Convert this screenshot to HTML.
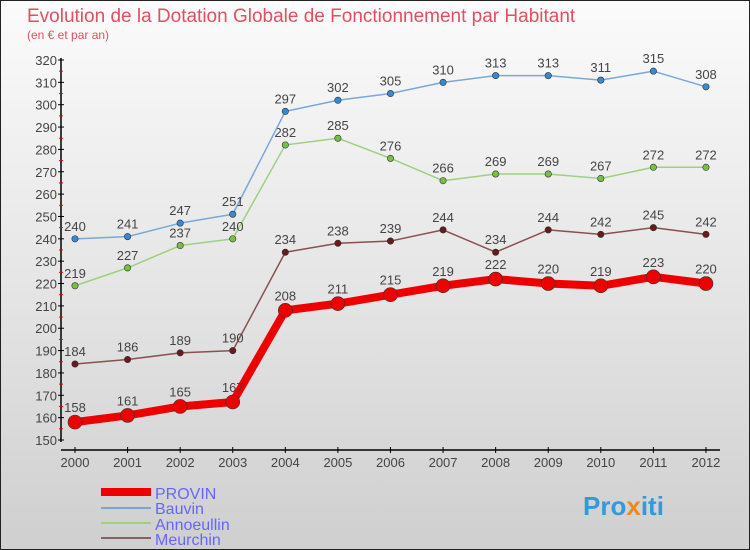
<!DOCTYPE html>
<html><head><meta charset="utf-8"><style>
body{margin:0;width:750px;height:550px;overflow:hidden}
#c{position:absolute;left:0;top:0;width:748px;height:548px;border:1px solid #222;background:linear-gradient(#fbfbfb,#e6e6e6 50%,#cfcfcf)}
svg{position:absolute;left:0;top:0}
text{font-family:"Liberation Sans",sans-serif}
</style></head><body>
<div id="c"></div>
<svg id="s" width="750" height="550">
<text x="27" y="22" font-size="19" fill="#e05060">Evolution de la Dotation Globale de Fonctionnement par Habitant</text>
<text x="27" y="39" font-size="12" fill="#e05060">(en € et par an)</text>
<g id="ax"></g><g id="ser"></g>
<g>
<line x1="101" y1="492" x2="151" y2="492" stroke="#e00" stroke-width="8"/>
<text x="155" y="499" font-size="16" fill="#6666ff">PROVIN</text>
<line x1="101" y1="508" x2="151" y2="508" stroke="#7aa8cc" stroke-width="2"/>
<text x="155" y="514" font-size="16" fill="#6666ff">Bauvin</text>
<line x1="101" y1="523" x2="151" y2="523" stroke="#9ed080" stroke-width="2"/>
<text x="155" y="530" font-size="16" fill="#6666ff">Annoeullin</text>
<line x1="101" y1="538" x2="151" y2="538" stroke="#8a6060" stroke-width="2"/>
<text x="155" y="545" font-size="16" fill="#6666ff">Meurchin</text>
</g>
<text x="583" y="515" font-size="26" font-weight="bold" fill="#3399dd">Pro<tspan fill="#ee8822">x</tspan>iti</text>
</svg>
<script>
const years=[2000,2001,2002,2003,2004,2005,2006,2007,2008,2009,2010,2011,2012];
const yTicks=[150,160,170,180,190,200,210,220,230,240,250,260,270,280,290,300,310,320];
const provin=[158,161,165,167,208,211,215,219,222,220,219,223,220];
const bauvin=[240,241,247,251,297,302,305,310,313,313,311,315,308];
const annoeullin=[219,227,237,240,282,285,276,266,269,269,267,272,272];
const meurchin=[184,186,189,190,234,238,239,244,234,244,242,245,242];
const NS='http://www.w3.org/2000/svg';
const X=i=>75+i*52.58, Y=v=>440-(v-150)*380/170;
function mk(t,a,p){const e=document.createElementNS(NS,t);for(const k in a)e.setAttribute(k,a[k]);p.appendChild(e);return e;}
const ax=document.getElementById('ax');
const ya=mk('line',{x1:61,y1:58,x2:61,y2:442,stroke:'#000','stroke-width':1.5},ax);


const xa=mk('line',{x1:61,y1:450,x2:720,y2:450,stroke:'#000','stroke-width':1.5},ax);


yTicks.forEach(v=>{
 mk('line',{x1:58,y1:Y(v),x2:64,y2:Y(v),stroke:'#000'},ax);
 if(v<320)mk('line',{x1:59,y1:Y(v+5),x2:63,y2:Y(v+5),stroke:'#e00'},ax);
 const t=mk('text',{x:57,y:Y(v)+5,'font-size':13,fill:'#444','text-anchor':'end'},ax);t.textContent=v;
 
 
});
years.forEach((y,i)=>{
 mk('line',{x1:X(i),y1:447,x2:X(i),y2:453,stroke:'#000'},ax);
 const t=mk('text',{x:X(i),y:467,'font-size':13,fill:'#444','text-anchor':'middle'},ax);t.textContent=y;
 
 
});
const ser=document.getElementById('ser');
function series(d,name,col,dot,w,r){
 const g=mk('g',{},ser);
 
 
 const l=mk('polyline',{points:d.map((v,i)=>X(i)+','+Y(v)).join(' '),fill:'none',stroke:col,'stroke-width':w,'stroke-linejoin':'round'},g);
 
 
 d.forEach((v,i)=>{
  const c=mk('circle',{cx:X(i),cy:Y(v),r:r,fill:dot,stroke:'#333','stroke-width':0.6},g);
  
  
  const t=mk('text',{x:X(i),y:Y(v)-(w>4?10:8),'font-size':13,fill:'#444','text-anchor':'middle'},g);t.textContent=v;
  
  
 });
}
series(meurchin,'meurchin','#8a5050','#6a1a1a',1.5,3.2);
series(annoeullin,'annoeullin','#9ed080','#77c040',1.5,3.2);
series(bauvin,'bauvin','#7aa8d8','#3a88d0',1.5,3.2);
series(provin,'provin','#e00','#e00',8,7);
</script>
</body></html>
